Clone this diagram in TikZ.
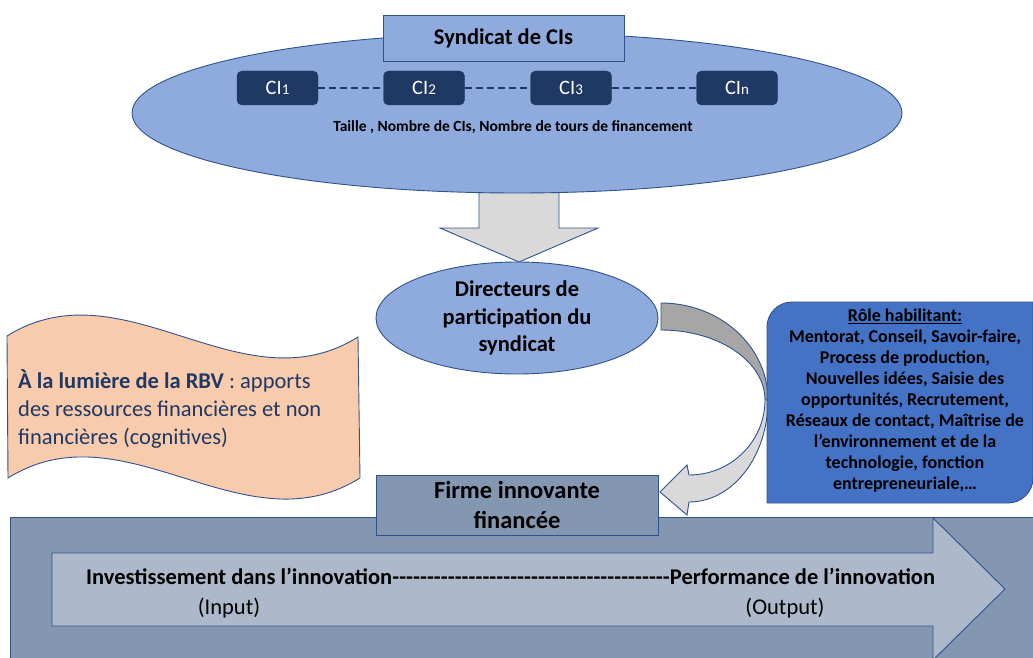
\documentclass[tikz,border=0pt]{standalone}
\usepackage{fontspec}
\setmainfont{Carlito}
\usetikzlibrary{shapes.geometric}
\definecolor{bord}{HTML}{2F528F}
\definecolor{lblue}{HTML}{8FAADC}
\definecolor{navy}{HTML}{203864}
\definecolor{mblue}{HTML}{4472C4}
\definecolor{slate}{HTML}{8497B0}
\definecolor{lslate}{HTML}{ADB9CA}
\definecolor{peach}{HTML}{F8CBAD}
\definecolor{lgray}{HTML}{D9D9D9}
\definecolor{mgray}{HTML}{A6A6A6}
\definecolor{rbvtxt}{HTML}{1F3864}
\newcommand\cisub[1]{CI\raisebox{-0.5pt}{\fontsize{15}{15}\selectfont #1}}
\begin{document}
\begin{tikzpicture}[x=1pt,y=-1pt,
  shapeline/.style={draw=bord, line width=0.9pt},
  cibox/.style={fill=navy, draw=navy, rounded corners=5pt, minimum width=81pt,
    minimum height=34pt, inner sep=0pt, text=white, font=\fontsize{20.5}{20.5}\selectfont},
  boldtxt/.style={font=\bfseries\fontsize{22.5}{27.5}\selectfont, align=center},
  cilink/.style={navy, line width=1.1pt, dash pattern=on 7pt off 4pt}]
\useasboundingbox (0,0) rectangle (1033,658);
\clip (0,0) rectangle (1033,658);

% big down arrow
\draw[shapeline, fill=lgray] (479,180) -- (479,228) -- (440,228) -- (519,262)
  -- (598,228) -- (559,228) -- (559,180) -- cycle;

% syndicate ellipse
\node[ellipse, shapeline, fill=lblue, minimum width=770pt, minimum height=160pt, inner sep=0pt]
  (synd) at (517,113) {};
\node[rectangle, shapeline, fill=lblue, minimum width=241pt, minimum height=46pt,
  font=\bfseries\fontsize{22.5}{26}\selectfont] (title) at (503.5,38) {Syndicat de CIs};
\node[cibox] (c1) at (277.5,88) {\cisub{1}};
\node[cibox] (c2) at (424,88) {\cisub{2}};
\node[cibox] (c3) at (571,88) {\cisub{3}};
\node[cibox] (cn) at (737,88) {\cisub{n}};
\draw[cilink] (c1.east) -- (c2.west);
\draw[cilink] (c2.east) -- (c3.west);
\draw[cilink] (c3.east) -- (cn.west);
\node[font=\bfseries\fontsize{15.5}{18}\selectfont] (taille) at (513,127)
  {Taille , Nombre de CIs, Nombre de tours de financement};

% directors ellipse
\node[ellipse, shapeline, fill=lblue, minimum width=282pt, minimum height=112pt, inner sep=0pt,
  boldtxt] (dir) at (517,318) {Directeurs de\\participation du\\syndicat};

% curved arrow (upper dark part)
\draw[shapeline, fill=mgray] (661,303) arc[start angle=-90, end angle=0, x radius=107, y radius=97]
  -- (765,400) arc[start angle=0, end angle=-90, x radius=104, y radius=70] -- cycle;
% curved arrow (lower light part with head)
\draw[shapeline, fill=lgray] (765,400) arc[start angle=0, end angle=90, x radius=76, y radius=75]
  -- (687,465) -- (660,492) -- (687,515) -- (689,502)
  arc[start angle=90, end angle=0, x radius=79, y radius=102] -- cycle;

% RBV wave banner
\draw[shapeline, fill=peach] (7,336) .. controls (124,263) and (241,410) .. (358,337)
  -- (360,478) .. controls (243,551) and (125,405) .. (8,478) -- cycle;
\node[anchor=west, align=left, text=rbvtxt, font=\fontsize{22.5}{28}\selectfont, inner sep=0pt]
  (rbv) at (18,409)
  {\textbf{À la lumière de la RBV} : apports\\des ressources financières et non\\financières (cognitives)};

% role box
\draw[shapeline, fill=mblue] (767,503) -- (767,327) arc[start angle=180, end angle=270, radius=25]
  -- (1033,302) -- (1033,478) arc[start angle=0, end angle=90, radius=25] -- cycle;
\node[align=center, font=\bfseries\fontsize{18}{21}\selectfont, inner sep=0pt] (role) at (905,401)
  {\underline{Rôle habilitant:}\\Mentorat, Conseil, Savoir-faire,\\Process de production,\\
   Nouvelles idées, Saisie des\\opportunités, Recrutement,\\Réseaux de contact, Maîtrise de\\
   l’environnement et de la\\technologie, fonction\\entrepreneuriale,…};

% bottom panel
\draw[shapeline, fill=slate] (10,517) rectangle (1045,670);
\draw[shapeline, fill=lslate] (52,553) -- (933,553) -- (933,518) -- (1005,589) -- (933,660)
  -- (933,626) -- (52,626) -- cycle;
\node[rectangle, shapeline, fill=slate, minimum width=282pt, minimum height=60pt,
  font=\bfseries\fontsize{24.5}{30}\selectfont, align=center]
  (firme) at (517,505) {Firme innovante\\financée};
\node[anchor=base west, inner sep=0pt, font=\bfseries\fontsize{22.5}{26}\selectfont] (flow) at (86,584)
  {\hbox to 849pt{Investissement dans l’innovation\xleaders\hbox{-}\hfill Performance de l’innovation}};
\node[font=\fontsize{22.5}{26}\selectfont] (inp) at (229,608) {(Input)};
\node[font=\fontsize{22.5}{26}\selectfont] (outp) at (785,608) {(Output)};
\end{tikzpicture}
\end{document}
